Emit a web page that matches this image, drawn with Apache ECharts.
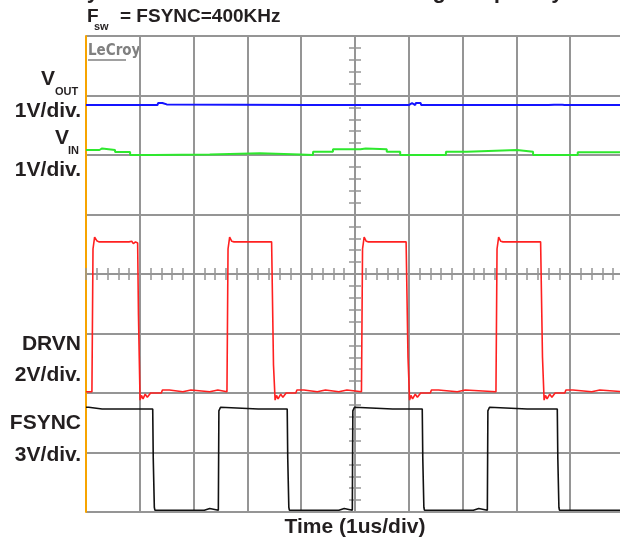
<!DOCTYPE html>
<html><head><meta charset="utf-8">
<script src="https://cdn.jsdelivr.net/npm/echarts@6/dist/echarts.min.js"></script>
<style>html,body{margin:0;padding:0;background:#fff}#c{width:620px;height:538px}</style>
</head><body><div id="c"></div>
<script>
// Units: x in divisions (1 us/div), y in vertical divisions from bottom of screen
const xDivs = [0, 10];
const yDivs = [0, 8];
const titleTop = 'Synchronized to External Switching Frequency';
const xName = 'Time (1us/div)';

// V_OUT (blue) trace points [time div, screen div]
const vout = [[0,6.84],[0.8,6.84],[0.81,6.87],[0.83,6.84],[1.08,6.84],[1.09,6.87],[1.11,6.84],[1.33,6.84],[1.34,6.875],[1.42,6.875],[1.43,6.85],[1.5,6.85],[1.51,6.875],[1.53,6.84],[4.12,6.84],[4.13,6.87],[4.15,6.84],[5.42,6.84],[5.43,6.87],[5.45,6.84],[5.7,6.84],[5.71,6.87],[5.73,6.84],[6.0,6.84],[6.01,6.87],[6.03,6.84],[6.06,6.87],[6.08,6.84],[6.12,6.84],[6.13,6.875],[6.22,6.875],[6.23,6.84],[6.29,6.84],[6.3,6.87],[6.32,6.84],[7.91,6.84],[7.92,6.87],[7.94,6.84],[8.5,6.84],[8.51,6.87],[8.53,6.84],[8.6,6.84],[8.61,6.87],[8.63,6.84],[8.7,6.845],[8.72,6.875],[8.76,6.845],[8.85,6.845],[8.87,6.875],[8.9,6.84],[9.17,6.84],[9.18,6.87],[9.2,6.84],[9.73,6.84],[9.74,6.87],[9.76,6.84],[10,6.84]];

// V_IN (green) step levels [start time div, level div]
const vin = [[0,6.084],[0.25,6.11],[0.3,6.084],[0.54,6.05],[0.82,6.0],[1.25,6.01],[2.3,6.03],[3.23,6.01],[3.98,6.0],[4.22,6.055],[4.59,6.095],[5.1,6.11],[5.2,6.095],[5.59,6.055],[5.84,6.0],[6.69,6.055],[7.08,6.085],[8.01,6.055],[8.31,6.0],[9.14,6.045],[10,6.045]];

// DRVN (red)
const drvn = [[0,2.02],[0.11,2.02],[0.13,4.42],[0.16,4.62],[0.2,4.56],[0.24,4.54],[0.8,4.54],[0.82,4.51],[0.85,4.55],[0.88,4.51],[0.92,4.54],[0.96,4.52],[0.97,4.5],[0.975,3.31],[1.0,3.31],[1.005,1.88],[1.03,1.96],[1.06,1.9],[1.1,1.98],[1.14,1.93],[1.2,2.0],[1.4,2.0],[1.42,2.05],[1.55,2.05],[1.57,2.02],[1.8,2.02],[1.82,2.05],[1.95,2.05],[1.97,2.02],[2.3,2.02],[2.32,2.05],[2.45,2.05],[2.47,2.02],[2.62,2.02],[2.64,4.42],[2.67,4.62],[2.71,4.55],[2.75,4.54],[3.45,4.54],[3.46,4.51],[3.48,4.53],[3.485,2.47],[3.51,2.47],[3.515,1.88],[3.54,1.96],[3.57,1.9],[3.62,1.98],[3.66,1.93],[3.72,2.0],[3.9,2.0],[3.92,2.05],[4.05,2.05],[4.07,2.02],[4.3,2.02],[4.32,2.05],[4.45,2.05],[4.47,2.02],[4.7,2.02],[4.72,2.05],[4.85,2.05],[4.87,2.02],[5.12,2.02],[5.14,4.42],[5.17,4.62],[5.21,4.55],[5.25,4.54],[5.95,4.54],[5.96,4.51],[5.98,4.53],[5.985,2.6],[6.01,2.6],[6.015,1.88],[6.04,1.96],[6.07,1.9],[6.12,1.98],[6.16,1.93],[6.22,2.0],[6.4,2.0],[6.42,2.05],[6.55,2.05],[6.57,2.02],[6.9,2.02],[6.92,2.05],[7.05,2.05],[7.07,2.02],[7.62,2.02],[7.64,4.42],[7.67,4.62],[7.71,4.55],[7.75,4.54],[8.45,4.54],[8.46,4.51],[8.48,4.53],[8.485,2.6],[8.51,2.6],[8.515,1.88],[8.54,1.96],[8.57,1.9],[8.62,1.98],[8.66,1.93],[8.72,2.0],[8.9,2.0],[8.92,2.05],[9.05,2.05],[9.07,2.02],[9.4,2.02],[9.42,2.05],[9.55,2.05],[9.57,2.02],[10,2.02]];

// FSYNC (black)
const fsync = [[0,1.76],[0.05,1.76],[0.07,1.73],[0.3,1.73],[0.31,1.7],[0.32,1.73],[0.6,1.73],[0.61,1.7],[0.62,1.73],[0.9,1.73],[0.91,1.7],[0.92,1.73],[1.1,1.73],[1.11,1.7],[1.12,1.73],[1.24,1.73],[1.25,0.9],[1.27,0.08],[1.28,0.03],[2.2,0.03],[2.21,0.06],[2.3,0.06],[2.31,0.03],[2.46,0.03],[2.47,1.7],[2.5,1.76],[2.53,1.73],[3.2,1.73],[3.21,1.7],[3.22,1.73],[3.5,1.73],[3.51,1.7],[3.52,1.73],[3.74,1.73],[3.75,0.9],[3.77,0.08],[3.78,0.03],[4.7,0.03],[4.71,0.06],[4.8,0.06],[4.81,0.03],[4.95,0.03],[4.96,1.7],[4.99,1.76],[5.02,1.73],[5.7,1.73],[5.71,1.7],[5.72,1.73],[6.0,1.73],[6.01,1.7],[6.02,1.73],[6.25,1.73],[6.26,0.9],[6.28,0.08],[6.29,0.03],[7.2,0.03],[7.21,0.06],[7.3,0.06],[7.31,0.03],[7.46,0.03],[7.47,1.7],[7.5,1.76],[7.53,1.73],[8.2,1.73],[8.21,1.7],[8.22,1.73],[8.5,1.73],[8.51,1.7],[8.52,1.73],[8.76,1.73],[8.77,0.9],[8.79,0.08],[8.8,0.03],[9.6,0.03],[9.61,0.06],[9.63,0.03],[10,0.03]];

const ink = '#231f20';
const gridC = '#959595';
const F = 'Liberation Sans';

const chart = echarts.init(document.getElementById('c'), null, {renderer:'canvas'});
function lbl(text, x, y, size, align){
  return {type:'text', x:x, y:y, style:{text:text, fill:ink, font:'bold '+size+'px "'+F+'"', textAlign:align||'right', textVerticalAlign:'top'}};
}
chart.setOption({
  animation:false,
  backgroundColor:'#fff',
  grid:{left:86, top:36, width:538, height:476, containLabel:false, outerBoundsMode:'none'},
  xAxis:[
    {type:'value', min:xDivs[0], max:xDivs[1], interval:1, axisLine:{show:false}, axisTick:{show:false}, axisLabel:{show:false},
     splitLine:{show:true, lineStyle:{color:gridC, width:2}},
     name:xName, nameLocation:'middle', nameGap:5,
     nameTextStyle:{color:ink, fontFamily:F, fontWeight:'bold', fontSize:21, verticalAlign:'top'}},
    {type:'value', min:xDivs[0], max:xDivs[1], interval:0.2, position:'bottom', offset:-232,
     axisLine:{show:false}, axisTick:{show:true, inside:true, length:12, lineStyle:{color:gridC, width:1.5}}, axisLabel:{show:false}, splitLine:{show:false}}
  ],
  yAxis:[
    {type:'value', min:yDivs[0], max:yDivs[1], interval:1, axisLine:{show:true, lineStyle:{color:'#f7a400', width:2}}, axisTick:{show:false}, axisLabel:{show:false},
     splitLine:{show:true, lineStyle:{color:gridC, width:2}}},
    {type:'value', min:yDivs[0], max:yDivs[1], interval:0.2, position:'left', offset:-263,
     axisLine:{show:false}, axisTick:{show:true, inside:true, length:12, lineStyle:{color:gridC, width:1.5}}, axisLabel:{show:false}, splitLine:{show:false}}
  ],
  series:[
    {type:'line', data:vout, symbol:'none', lineStyle:{color:'#1414ff', width:2}, z:5},
    {type:'line', data:vin, step:'end', symbol:'none', lineStyle:{color:'#2ee82e', width:2}, z:5},
    {type:'line', data:drvn, symbol:'none', lineStyle:{color:'#ff2020', width:1.6}, z:5},
    {type:'line', data:fsync, symbol:'none', lineStyle:{color:'#111', width:1.6}, z:5}
  ],
  graphic:[
    {type:'text', x:72, y:-19.5, style:{text:titleTop, fill:ink, font:'bold 22px "'+F+'"', textAlign:'left', textVerticalAlign:'top'}},
    {type:'text', x:87, y:7, style:{text:'F', fill:ink, font:'bold 19px "'+F+'"', textAlign:'left', textVerticalAlign:'top'}},
    {type:'text', x:94, y:21, style:{text:'sw', fill:ink, font:'bold 11px "'+F+'"', textAlign:'left', textVerticalAlign:'top'}},
    {type:'text', x:120, y:7, style:{text:'= FSYNC=400KHz', fill:ink, font:'bold 19px "'+F+'"', textAlign:'left', textVerticalAlign:'top'}},
    {type:'text', x:88, y:44, style:{text:'LeCroy', fill:'#808080', font:'bold 15px "DejaVu Sans Condensed"', textAlign:'left', textVerticalAlign:'top'}},
    {type:'line', shape:{x1:88, y1:60, x2:126, y2:60}, style:{stroke:'#808080', lineWidth:1.5}},
    lbl('V', 55, 69, 21),
    {type:'text', x:55, y:86, style:{text:'OUT', fill:ink, font:'bold 11px "'+F+'"', textAlign:'left', textVerticalAlign:'top'}},
    lbl('1V/div.', 81, 101, 21),
    lbl('V', 69, 128, 21),
    {type:'text', x:68, y:145, style:{text:'IN', fill:ink, font:'bold 11px "'+F+'"', textAlign:'left', textVerticalAlign:'top'}},
    lbl('1V/div.', 81, 160, 21),
    lbl('DRVN', 81, 334, 21),
    lbl('2V/div.', 81, 365, 21),
    lbl('FSYNC', 81, 413, 21),
    lbl('3V/div.', 81, 445, 21)
  ]
});
</script></body></html>
